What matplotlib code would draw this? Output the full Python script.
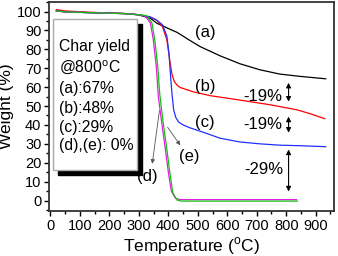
import matplotlib
matplotlib.use("Agg")
import matplotlib.pyplot as plt
from matplotlib.patches import Rectangle
from matplotlib.ticker import MultipleLocator

plt.rcParams['font.family'] = ['Liberation Sans', 'DejaVu Sans']
plt.rcParams['mathtext.fontset'] = 'custom'
plt.rcParams['mathtext.rm'] = 'Liberation Sans'

# TGA curves: temperature (C) and weight (%)
t_a = [20, 50, 150, 250, 300, 340, 361, 400, 429, 470, 507, 575, 642, 710, 778, 846, 934]
w_a = [100.5, 99.8, 99.3, 98.9, 98.2, 96.3, 93.8, 91.0, 89.0, 85.0, 81.5, 76.6, 72.4, 69.2, 66.9, 65.7, 64.4]

t_b = [20, 50, 150, 250, 300, 340, 360, 380, 395, 405, 412, 420, 430, 440, 483, 541, 632, 744, 836, 880, 931]
w_b = [101.0, 100.3, 99.5, 99.0, 98.3, 97.0, 95.5, 92.0, 85.0, 74.0, 67.0, 63.0, 61.0, 59.8, 57.6, 55.5, 53.4, 50.7, 48.0, 46.0, 43.3]

t_c = [20, 50, 150, 250, 300, 340, 360, 380, 395, 402, 408, 412, 418, 425, 435, 450, 473, 530, 575, 642, 710, 778, 846, 934]
w_c = [100.3, 99.8, 99.3, 98.9, 98.3, 97.0, 95.5, 93.0, 87.0, 78.0, 65.0, 57.0, 48.0, 44.0, 41.5, 40.0, 38.5, 35.5, 33.0, 31.0, 30.0, 29.3, 29.0, 28.5]

t_d = [20, 50, 150, 250, 300, 322, 339, 349, 359, 366, 376, 390, 400, 410, 424, 440, 600, 835]
w_d = [100.3, 99.8, 99.3, 98.9, 98.3, 97.5, 94.0, 85.0, 71.0, 55.0, 43.0, 27.0, 15.0, 5.0, 1.2, 0.5, 0.5, 0.5]

t_e = [20, 50, 150, 250, 300, 327, 344, 354, 364, 371, 381, 395, 405, 415, 429, 445, 600, 838]
w_e = [100.3, 99.8, 99.3, 98.9, 98.3, 97.8, 94.0, 85.0, 71.0, 56.0, 43.0, 27.0, 14.8, 4.2, 0.3, -0.3, -0.3, -0.3]

box_lines = ["Char yield", "@800$^{\\rm o}$C", "(a):67%", "(b):48%", "(c):29%", "(d),(e): 0%"]

fig = plt.figure(figsize=(3.38, 2.56), dpi=100)
ax = fig.add_axes([0.145, 0.176, 0.843, 0.816])

ax.plot(t_a, w_a, color="black", lw=0.9)
ax.plot(t_b, w_b, color="#ff0000", lw=0.9)
ax.plot(t_c, w_c, color="#2030ff", lw=0.9)
ax.plot(t_d, w_d, color="#e020e0", lw=0.9)
ax.plot(t_e, w_e, color="#10c010", lw=0.9)

ax.set_xlim(-5, 962)
ax.set_ylim(-5.5, 105)
ax.xaxis.set_major_locator(MultipleLocator(100))
ax.xaxis.set_minor_locator(MultipleLocator(50))
ax.yaxis.set_major_locator(MultipleLocator(10))
ax.yaxis.set_minor_locator(MultipleLocator(5))
ax.tick_params(which="major", direction="out", length=3.5, width=1, labelsize=10.5, pad=2)
ax.tick_params(which="minor", direction="out", length=2.5, width=1)
for s in ax.spines.values():
    s.set_linewidth(1.3)
    s.set_color("#333333")

ax.set_xlabel("Temperature ($^{\\rm o}$C)", fontsize=12.5, labelpad=2)
ax.set_ylabel("Weight (%)", fontsize=12.5, labelpad=2)

# curve labels
fs = 12
ax.text(524, 88.7, "(a)", fontsize=fs, ha="center", va="center")
ax.text(524, 60.2, "(b)", fontsize=fs, ha="center", va="center")
ax.text(524, 41.2, "(c)", fontsize=fs, ha="center", va="center")
ax.text(470, 23.2, "(e)", fontsize=fs, ha="center", va="center")
ax.text(330, 12.7, "(d)", fontsize=fs, ha="center", va="center")
ax.annotate("", xy=(344, 18), xytext=(371, 49),
            arrowprops=dict(arrowstyle="-|>", color="#555555", lw=0.6, mutation_scale=6))
ax.annotate("", xy=(446, 28), xytext=(392, 40),
            arrowprops=dict(arrowstyle="-|>", color="#555555", lw=0.6, mutation_scale=6))

# loss arrows
ax.text(720, 55, "-19%", fontsize=fs, ha="center", va="center")
ax.text(720, 40, "-19%", fontsize=fs, ha="center", va="center")
ax.text(725, 16.4, "-29%", fontsize=fs, ha="center", va="center")
for y0, y1 in [(52.3, 62.3), (35.9, 44.4), (4.8, 27.0)]:
    ax.annotate("", xy=(808, y1), xytext=(808, y0),
                arrowprops=dict(arrowstyle="<|-|>", color="black", lw=0.8,
                                mutation_scale=7, shrinkA=0, shrinkB=0))

# char yield box with shadow
x0, x1, yb, yt = 0.014, 0.309, 0.196, 0.919
dx, dy = 0.0175, 0.024
ax.add_patch(Rectangle((x0 + dx, yb - dy), x1 - x0, yt - yb, transform=ax.transAxes,
                       facecolor="black", edgecolor="black", zorder=5))
ax.add_patch(Rectangle((x0, yb), x1 - x0, yt - yb, transform=ax.transAxes,
                       facecolor="white", edgecolor="#aaaaaa", lw=1, zorder=6))
ys = [0.785, 0.687, 0.588, 0.491, 0.400, 0.311]
for txt, yy in zip(box_lines, ys):
    ax.text(0.035, yy, txt, transform=ax.transAxes, fontsize=11.3, ha="left", va="center", zorder=7)

fig.savefig("out.png", dpi=100)
